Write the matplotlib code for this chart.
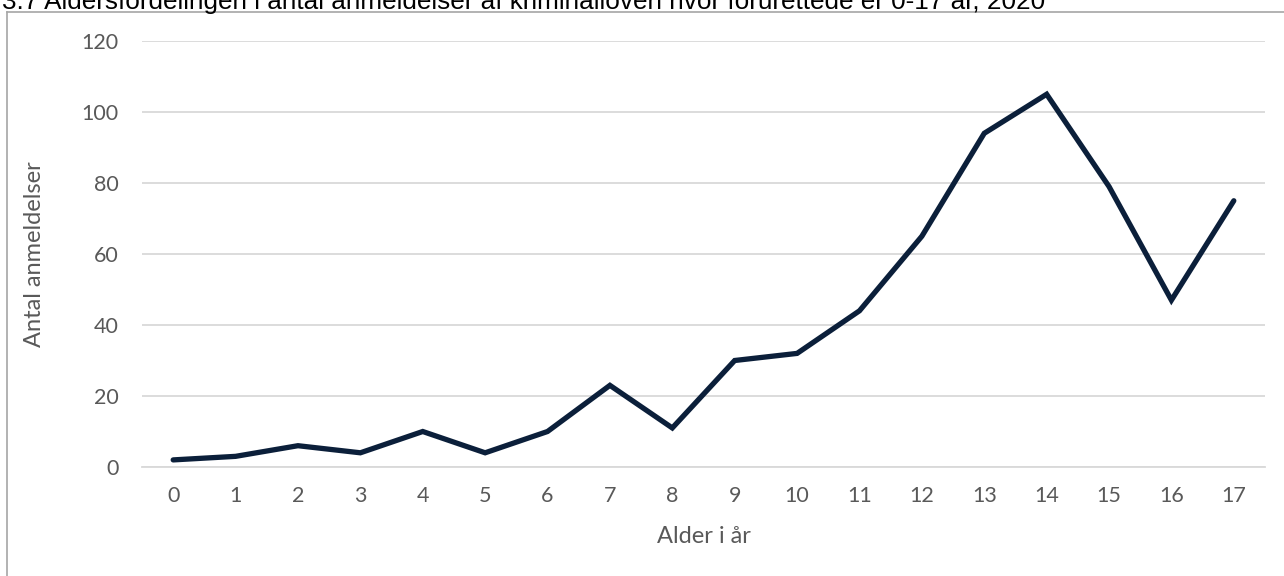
import matplotlib
matplotlib.use("Agg")
import matplotlib.pyplot as plt
from matplotlib.lines import Line2D

# alder 0-17 og antal anmeldelser
alder = list(range(18))
antal = [2, 3, 6, 4, 10, 4, 10, 23, 11, 30, 32, 44, 65, 94, 105, 79, 47, 75]
y_ticks = [0, 20, 40, 60, 80, 100, 120]

titel = "3.7 Aldersfordelingen i antal anmeldelser af kriminalloven hvor forurettede er 0-17 år, 2020"

plt.rcParams['font.family'] = ['Lato', 'DejaVu Sans']

fig = plt.figure(figsize=(12.84, 5.76), dpi=100)
ax = fig.add_axes([142/1284, 1 - 467/576, (1265 - 142)/1284, (467 - 41)/576])

ax.plot(alder, antal, color='#0b1f3a', linewidth=3.8, solid_joinstyle='miter', solid_capstyle='round', zorder=3)

ax.set_xlim(-0.5, 17.5)
ax.set_ylim(0, 120)
ax.set_yticks(y_ticks)
ax.set_xticks(alder)
ax.grid(axis='y', color='#d9d9d9', linewidth=1.3)
ax.set_axisbelow(True)
for s in ['top', 'right', 'left']:
    ax.spines[s].set_visible(False)
ax.spines['bottom'].set_color('#d9d9d9')
ax.spines['bottom'].set_linewidth(1.3)
ax.tick_params(length=0, labelsize=15.5, colors='#595959', pad=14)
ax.tick_params(axis='y', pad=17)

ax.set_xlabel("Alder i år", fontsize=17, color='#595959', labelpad=14)
ax.set_ylabel("Antal anmeldelser", fontsize=17, color='#595959', labelpad=26)

# ramme og titel (titlen er beskåret foroven)
fig.add_artist(Line2D([7/1284, 1], [1 - 12/576, 1 - 12/576], transform=fig.transFigure, color='#a6a6a6', linewidth=1.2))
fig.add_artist(Line2D([7/1284, 7/1284], [0, 1 - 12/576], transform=fig.transFigure, color='#a6a6a6', linewidth=1.2))
fig.text(2/1284, 1 - 9/576, titel, fontsize=18.8, family=['Liberation Sans', 'DejaVu Sans'], va='baseline', ha='left', color='#000000')

fig.savefig("out.png", dpi=100)
